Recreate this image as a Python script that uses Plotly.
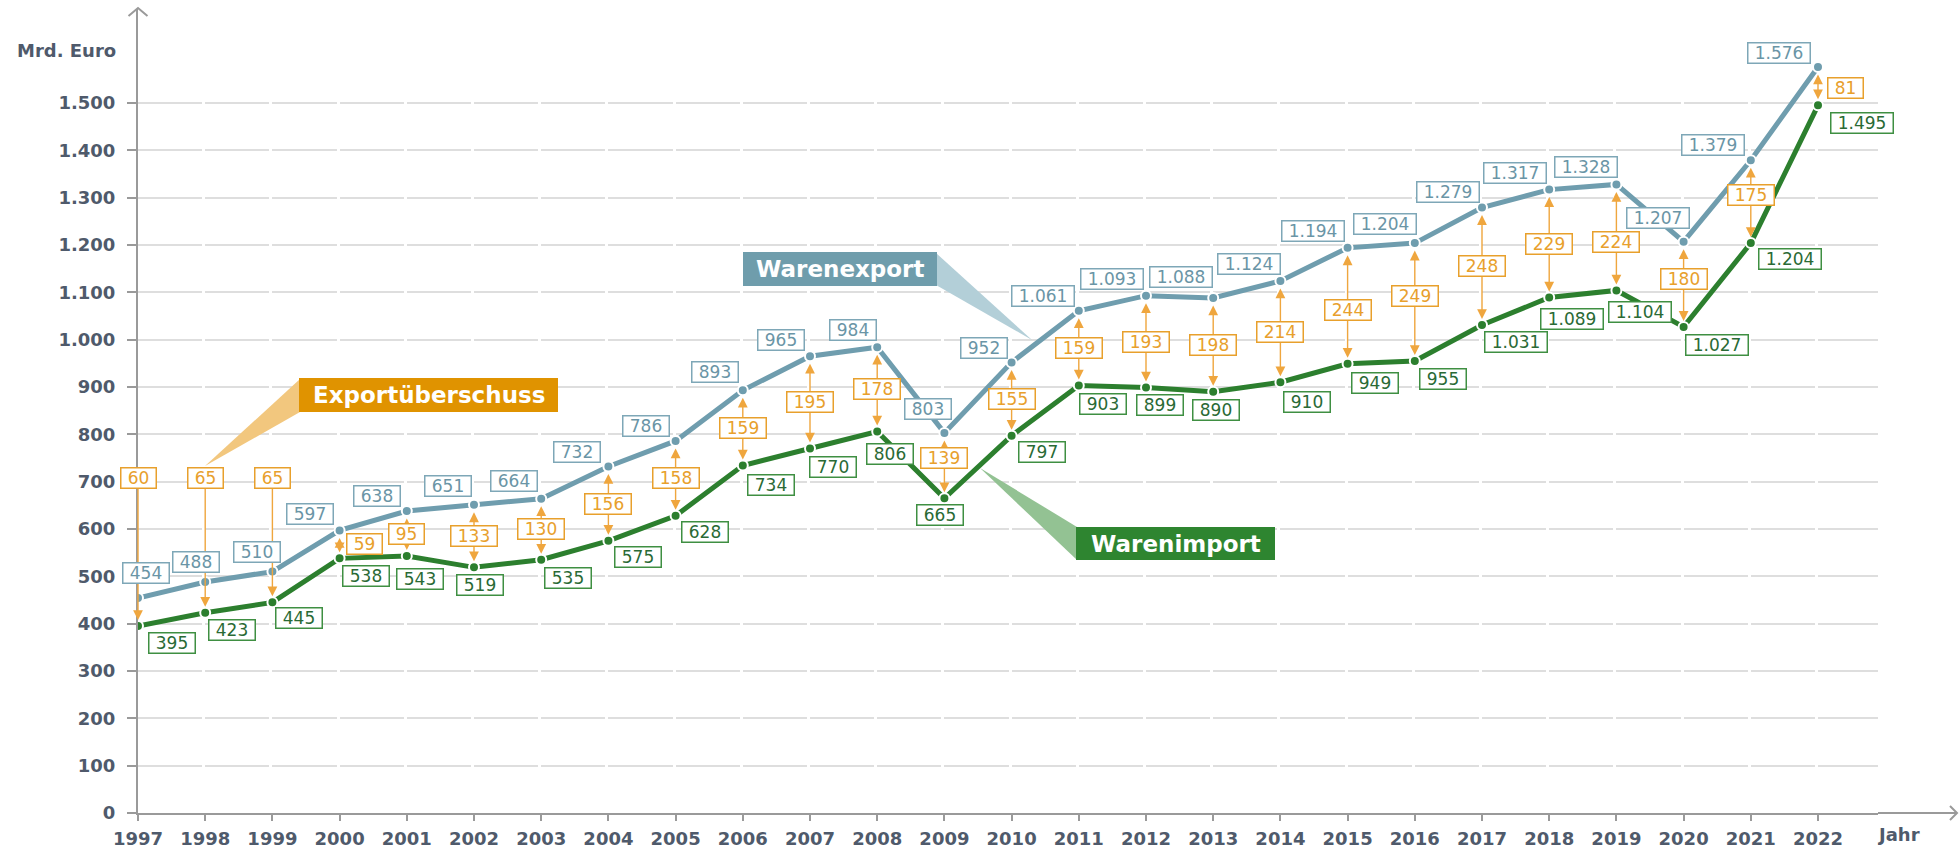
import plotly.graph_objects as go

# ---------------- data ----------------
years = list(range(1997, 2023))
export_vals = [454, 488, 510, 597, 638, 651, 664, 732, 786, 893, 965, 984, 803,
               952, 1061, 1093, 1088, 1124, 1194, 1204, 1279, 1317, 1328, 1207, 1379, 1576]
import_vals = [395, 423, 445, 538, 543, 519, 535, 575, 628, 734, 770, 806, 665,
               797, 903, 899, 890, 910, 949, 955, 1031, 1089, 1104, 1027, 1204, 1495]
surplus_vals = [60, 65, 65, 59, 95, 133, 130, 156, 158, 159, 195, 178, 139,
                155, 159, 193, 198, 214, 244, 249, 248, 229, 224, 180, 175, 81]
y_tick_vals = [0, 100, 200, 300, 400, 500, 600, 700, 800, 900, 1000, 1100, 1200, 1300, 1400, 1500]
y_tick_text = ["0", "100", "200", "300", "400", "500", "600", "700", "800", "900",
               "1.000", "1.100", "1.200", "1.300", "1.400", "1.500"]
x_tick_text = [str(y) for y in years]
series_names = ["Warenexport", "Warenimport", "Exportüberschuss"]

# ---------------- label placement (px offsets of label centre from point) ----------------
exp_off = [(8, -25), (-9, -20), (-15, -20), (-30, -16), (-30, -15), (-26, -19), (-27, -18),
           (-31, -15), (-30, -15), (-28, -18), (-29, -16), (-24, -17), (-16, -24), (-28, -14),
           (-36, -15), (-34, -17), (-32, -21), (-31, -17), (-35, -17), (-30, -19), (-34, -16),
           (-34, -17), (-30, -17), (-26, -24), (-38, -15), (-39, -14)]
imp_off = [(34, 17), (27, 17), (27, 16), (26, 18), (13, 23), (6, 18), (27, 18), (30, 16),
           (29, 16), (28, 19), (23, 18), (13, 23), (-4, 17), (30, 16), (24, 18), (14, 18),
           (3, 18), (27, 20), (27, 19), (28, 18), (34, 17), (23, 21), (24, 22), (33, 18),
           (39, 16), (44, 18)]
sur_off = [(0, 0)] * 26
sur_off = list(sur_off)
sur_off[3] = (25, 0)
sur_off[12] = (0, -8)
sur_off[18] = (0, 4)
sur_off[19] = (0, -6)
sur_off[22] = (0, 5)
sur_off[23] = (0, -5)
sur_off[24] = (0, -7)
sur_off[25] = (27, 2)
SUR_FIXED = 708   # level of the first three surplus labels

# ---------------- geometry ----------------
W, H = 1959, 848
L, R, T, B = 138, 81, 9, 35
PW, PH = W - L - R, H - T - B
XSTEP = 67.2
YSCALE = 710 / 1500.0
x_range = [1997, 1997 + PW / XSTEP]
y_range = [0, PH / YSCALE]


def dx(px):
    return 1997 + (px - L) / XSTEP


def dy(py):
    return (H - B - py) / YSCALE


def pxp(px):
    return (px - L) / PW


def pyp(py):
    return (H - B - py) / PH


def fmt(v):
    s = str(v)
    if len(s) > 3:
        s = s[:-3] + "." + s[-3:]
    return s


def box_w(txt):
    nd = sum(c.isdigit() for c in txt)
    return 11 * nd + 5 * txt.count(".") + 12


FONT = "DejaVu Sans"
EXP_C = "#6f9dae"
EXP_TXT = "#6a95a6"
EXP_BORDER = "#7ea7b7"
IMP_C = "#2c7f2e"
IMP_TXT = "#2a6a35"
IMP_BORDER = "#3f8f42"
ORA = "#e8a02c"
ORA_LINE = "#efa63e"
AX_C = "#9a9a9a"
TICK_TXT = "#4f5a6b"

fig = go.Figure()

fig.add_trace(go.Scatter(
    x=years, y=export_vals, name=series_names[0], mode="lines+markers",
    line=dict(color=EXP_C, width=5),
    marker=dict(color=EXP_C, size=10, line=dict(color="white", width=2)),
    hoverinfo="skip", showlegend=False))
fig.add_trace(go.Scatter(
    x=years, y=import_vals, name=series_names[1], mode="lines+markers",
    line=dict(color=IMP_C, width=5),
    marker=dict(color=IMP_C, size=10, line=dict(color="white", width=2)),
    hoverinfo="skip", showlegend=False))

ann = []
# arrows between the lines
for i, yr in enumerate(years):
    if i < 3:
        ann.append(dict(x=yr, y=import_vals[i], ax=yr, ay=SUR_FIXED, xref="x", yref="y",
                        axref="x", ayref="y", text="", showarrow=True, arrowhead=2,
                        arrowside="end", arrowsize=1.4, arrowwidth=1.4, arrowcolor=ORA_LINE,
                        standoff=6, startstandoff=0))
    else:
        ann.append(dict(x=yr, y=import_vals[i], ax=yr, ay=export_vals[i], xref="x", yref="y",
                        axref="x", ayref="y", text="", showarrow=True, arrowhead=2,
                        startarrowhead=2, arrowside="end+start", arrowsize=1.4,
                        arrowwidth=1.4, arrowcolor=ORA_LINE, standoff=6, startstandoff=6))

lab_font = dict(family=FONT, size=17)
# surplus labels
for i, yr in enumerate(years):
    t = fmt(surplus_vals[i])
    yv = SUR_FIXED if i < 3 else (export_vals[i] + import_vals[i]) / 2
    ox, oy = sur_off[i]
    ann.append(dict(x=yr, y=yv, xref="x", yref="y", text=t, showarrow=False,
                    xshift=ox, yshift=-oy, font=dict(lab_font, color=ORA),
                    bgcolor="white", bordercolor=ORA, borderwidth=1.5, borderpad=0,
                    width=box_w(t), height=19))
# export labels
for i, yr in enumerate(years):
    t = fmt(export_vals[i])
    ox, oy = exp_off[i]
    ann.append(dict(x=yr, y=export_vals[i], xref="x", yref="y", text=t, showarrow=False,
                    xshift=ox, yshift=-oy, font=dict(lab_font, color=EXP_TXT),
                    bgcolor="white", bordercolor=EXP_BORDER, borderwidth=1.5, borderpad=0,
                    width=box_w(t), height=19))
# import labels
for i, yr in enumerate(years):
    t = fmt(import_vals[i])
    ox, oy = imp_off[i]
    ann.append(dict(x=yr, y=import_vals[i], xref="x", yref="y", text=t, showarrow=False,
                    xshift=ox, yshift=-oy, font=dict(lab_font, color=IMP_TXT),
                    bgcolor="white", bordercolor=IMP_BORDER, borderwidth=1.5, borderpad=0,
                    width=box_w(t), height=19))

shapes = []
# callouts: (box px x0, x1, y0, y1, wedge points px, box colour, wedge colour, text)
callouts = [
    (299, 558, 378, 412, [(300, 379), (300, 412), (205, 466)], "#e09300", "#f2c77e", series_names[2]),
    (743, 937, 252, 286, [(936, 253), (936, 285), (1032, 340)], "#6f9dac", "#b3cfd8", series_names[0]),
    (1076, 1275, 527, 560, [(980, 468), (1077, 527), (1077, 560)], "#2e8530", "#93c293", series_names[1]),
]
for x0, x1, y0, y1, pts, bc, wc, txt in callouts:
    path = "M " + " L ".join(f"{dx(px):.4f},{dy(py):.3f}" for px, py in pts) + " Z"
    shapes.append(dict(type="path", path=path, xref="x", yref="y",
                       fillcolor=wc, line=dict(width=0), layer="above"))
    shapes.append(dict(type="rect", x0=dx(x0), x1=dx(x1), y0=dy(y1), y1=dy(y0),
                       xref="x", yref="y", fillcolor=bc, line=dict(width=0), layer="above"))
    ann.append(dict(x=(dx(x0) + dx(x1)) / 2, y=(dy(y0) + dy(y1)) / 2, xref="x", yref="y",
                    text=f"<b>{txt}</b>", showarrow=False,
                    font=dict(family=FONT, size=23, color="white")))

# axis arrows
shapes.append(dict(type="path", xref="paper", yref="paper",
                   path=f"M {pxp(128.5)},{pyp(16)} L {pxp(138)},{pyp(8)} L {pxp(147.5)},{pyp(16)}",
                   line=dict(color=AX_C, width=2)))
shapes.append(dict(type="line", xref="paper", yref="paper",
                   x0=1, x1=pxp(1957), y0=0, y1=0, line=dict(color=AX_C, width=2)))
shapes.append(dict(type="path", xref="paper", yref="paper",
                   path=f"M {pxp(1950)},{pyp(806)} L {pxp(1957)},{pyp(813)} L {pxp(1950)},{pyp(820)}",
                   line=dict(color=AX_C, width=2)))

# axis titles
ann.append(dict(xref="paper", yref="paper", x=pxp(118), y=pyp(50), xanchor="right",
                yanchor="middle", text="<b>Mrd. Euro</b>", showarrow=False,
                font=dict(family=FONT, size=18, color=TICK_TXT)))
ann.append(dict(xref="paper", yref="paper", x=pxp(1898), y=pyp(834), xanchor="center",
                yanchor="middle", text="<b>Jahr</b>", showarrow=False,
                font=dict(family=FONT, size=18, color=TICK_TXT)))

fig.update_layout(
    width=W, height=H, autosize=False,
    margin=dict(l=L, r=R, t=T, b=B, pad=0, autoexpand=False),
    paper_bgcolor="white", plot_bgcolor="white",
    showlegend=False, hovermode=False,
    annotations=ann, shapes=shapes,
    xaxis=dict(range=x_range, tickmode="array", tickvals=years, ticktext=x_tick_text,
               showgrid=False, zeroline=False, showline=True, linecolor=AX_C, linewidth=2,
               ticks="outside", ticklen=6, tickwidth=2, tickcolor=AX_C, ticklabelstandoff=2,
               automargin=False,
               tickfont=dict(family=FONT, size=18, color=TICK_TXT, weight="bold"),
               fixedrange=True),
    yaxis=dict(range=y_range, tickmode="array", tickvals=y_tick_vals, ticktext=y_tick_text,
               showgrid=True, gridcolor="#dedede", gridwidth=1.5, griddash="64.2px,3px",
               zeroline=False, showline=True, linecolor=AX_C, linewidth=2,
               ticks="outside", ticklen=9, tickwidth=2, tickcolor=AX_C, ticklabelstandoff=8,
               automargin=False,
               tickfont=dict(family=FONT, size=18, color=TICK_TXT, weight="bold"),
               fixedrange=True),
)

fig.write_html("out.html", config={"displayModeBar": False},
               post_script="document.body.style.margin='0';")
